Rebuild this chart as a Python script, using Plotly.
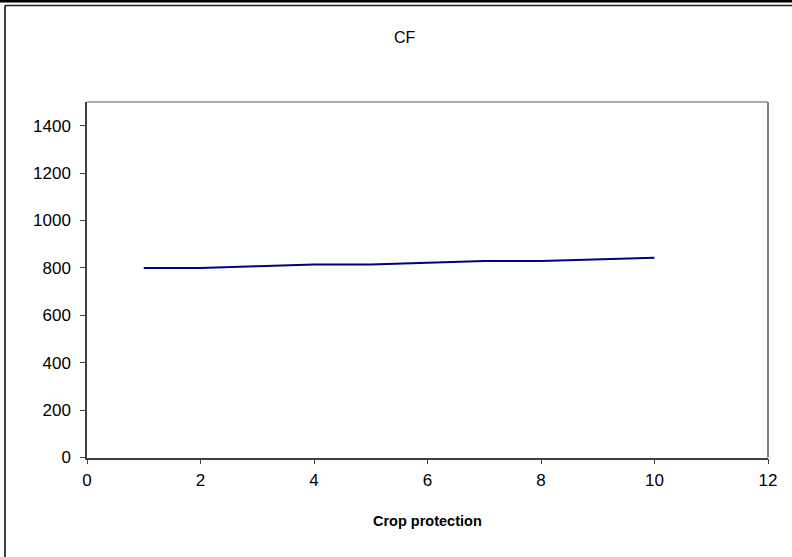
import plotly.graph_objects as go

# Series data
crop_protection = [1, 2, 3, 4, 5, 6, 7, 8, 9, 10]
cf_values = [800, 800, 807, 814, 814, 821, 829, 829, 836, 843]

title_text = "CF"
x_title = "Crop protection"
x_ticks = [0, 2, 4, 6, 8, 10, 12]
y_ticks = [0, 200, 400, 600, 800, 1000, 1200, 1400]

W, H = 792, 557
# plot-area pixel box
px_left, px_right = 87, 768
px_top, px_bottom = 102, 457.5

font_family = "Liberation Sans, Arial, sans-serif"

fig = go.Figure()
fig.add_trace(go.Scatter(
    x=crop_protection, y=cf_values, mode="lines",
    line=dict(color="#000080", width=2), showlegend=False,
))

fig.update_layout(
    width=W, height=H,
    margin=dict(l=0, r=0, t=0, b=0),
    paper_bgcolor="white", plot_bgcolor="white",
    template="none",
    font=dict(family=font_family, size=13, color="black"),
    showlegend=False,
    xaxis=dict(
        domain=[px_left / W, px_right / W],
        range=[0, 12], tickvals=x_ticks,
        showgrid=False, zeroline=False,
        showline=True, linecolor="#404040", linewidth=1.5,
        ticks="outside", ticklen=5, tickcolor="#404040",
        tickfont=dict(size=17), ticklabelstandoff=1,
        automargin=False,
    ),
    yaxis=dict(
        domain=[1 - px_bottom / H, 1 - px_top / H],
        range=[0, 1500], tickvals=y_ticks,
        showgrid=False, zeroline=False,
        showline=True, linecolor="#404040", linewidth=1.5,
        ticks="outside", ticklen=5, tickcolor="#404040",
        tickfont=dict(size=17), ticklabelstandoff=6,
        automargin=False,
    ),
    annotations=[
        dict(text=title_text, x=405 / W, y=1 - 38 / H, xref="paper", yref="paper",
             xanchor="center", yanchor="middle", showarrow=False,
             font=dict(size=16)),
        dict(text="<b>" + x_title + "</b>", x=(px_left + px_right) / 2 / W, y=1 - 521 / H,
             xref="paper", yref="paper", xanchor="center", yanchor="middle",
             showarrow=False, font=dict(size=14.5)),
    ],
    shapes=[
        # plot-area border (top and right)
        dict(type="line", xref="paper", yref="paper",
             x0=px_left / W, x1=px_right / W, y0=1 - px_top / H, y1=1 - px_top / H,
             line=dict(color="#909090", width=1.5)),
        dict(type="line", xref="paper", yref="paper",
             x0=px_right / W, x1=px_right / W, y0=1 - px_top / H, y1=1 - px_bottom / H,
             line=dict(color="#808080", width=2)),
        # outer chart frame
        dict(type="line", xref="paper", yref="paper",
             x0=0, x1=1, y0=1 - 1.2 / H, y1=1 - 1.2 / H,
             line=dict(color="black", width=2.5)),
        dict(type="line", xref="paper", yref="paper",
             x0=5 / W, x1=1, y0=1 - 5.5 / H, y1=1 - 5.5 / H,
             line=dict(color="#202020", width=1.5)),
        dict(type="line", xref="paper", yref="paper",
             x0=5 / W, x1=5 / W, y0=1 - 5.5 / H, y1=0,
             line=dict(color="black", width=1.5)),
    ],
)

fig.write_html("out.html")
